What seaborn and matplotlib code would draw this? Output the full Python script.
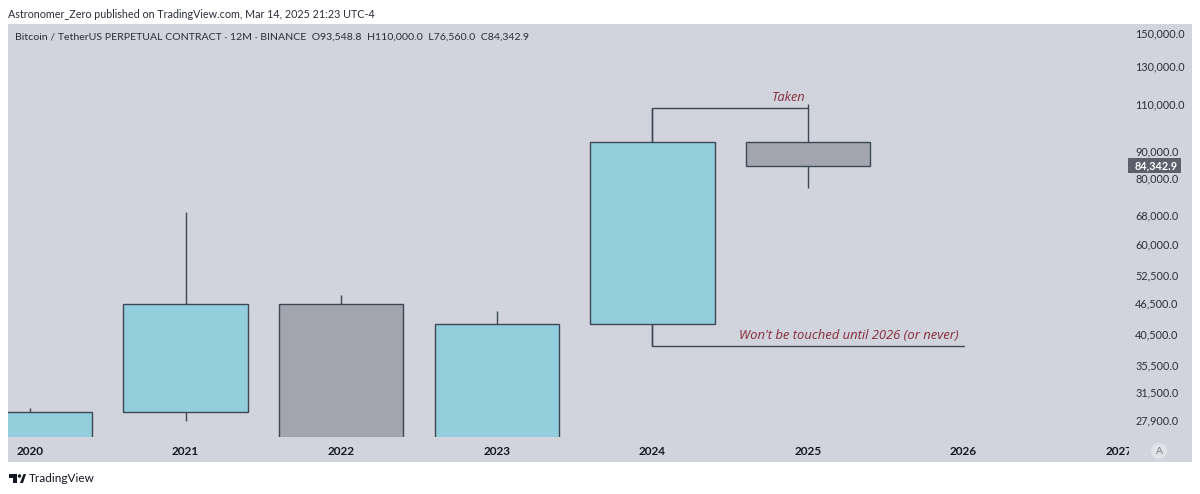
import numpy as np
import matplotlib
matplotlib.use("Agg")
import matplotlib.pyplot as plt
from matplotlib.patches import Rectangle, Circle, Polygon
from matplotlib.transforms import Bbox
import seaborn as sns

years = [2020, 2021, 2022, 2023, 2024, 2025]
opens = [7200.0, 28900.0, 46200.0, 16500.0, 42300.0, 93548.8]
closes = [28900.0, 46200.0, 16500.0, 42300.0, 93548.8, 84342.9]
highs = [29400.0, 68900.0, 48100.0, 44800.0, 108300.0, 110000.0]
lows = [7000.0, 27800.0, 15500.0, 16000.0, 38500.0, 76560.0]
axis_years = [2020, 2021, 2022, 2023, 2024, 2025, 2026, 2027]
price_ticks = [150000, 130000, 110000, 90000, 80000, 68000, 60000, 52500,
               46500, 40500, 35500, 31500, 27900]

W, H = 1200, 494
UP, DOWN = "#92cedb", "#a2a5ae"
EDGE = "#3c4654"
PANEL = "#d1d4dc"
NOTE = "#862b3c"
TXT = "#2a2e39"

sns.set_theme(style="white")
plt.rcParams["font.family"] = ["Lato", "DejaVu Sans"]

fig = plt.figure(figsize=(W / 100, H / 100), dpi=100, facecolor="white")
fig.add_artist(Rectangle((8 / W, 1 - 462 / H), 1184 / W, 438 / H, transform=fig.transFigure,
                         facecolor=PANEL, edgecolor="none", zorder=-5))
ax = fig.add_axes([8 / W, 1 - 437 / H, 1119 / W, 413 / H])
ax.patch.set_alpha(0)

bottoms = [min(o, c) for o, c in zip(opens, closes)]
heights = [abs(o - c) for o, c in zip(opens, closes)]
ax.vlines(years, lows, highs, color=EDGE, lw=1.0, zorder=1)
sns.barplot(x=years, y=heights, bottom=bottoms, native_scale=True, width=0.8, saturation=1,
            color=UP, edgecolor=EDGE, linewidth=1.0, errorbar=None, ax=ax, zorder=2)
for bar, o, c in zip(ax.patches, opens, closes):
    bar.set_facecolor(UP if c >= o else DOWN)

ax.set_yscale("log")
ax.set_xlim(2019.859, 2027.05)
ax.set_ylim(25930, 155990)
ax.set_xlabel("")
ax.set_ylabel("")
ax.yaxis.tick_right()
ax.minorticks_off()
ax.set_yticks(price_ticks)
ax.set_yticklabels([f"{p:,.1f}" for p in price_ticks], fontsize=7.8, color=TXT)
ax.minorticks_off()
ax.tick_params(axis="y", length=0, pad=5.8)
ax.set_xticks(axis_years)
ax.set_xticklabels([str(y) for y in axis_years], fontsize=8.5, fontweight="bold", color="#131722")
ax.tick_params(axis="x", length=0, pad=6.2)
for s in ax.spines.values():
    s.set_visible(False)
clip = Bbox([[8, 0], [1129, H]])
for lab in ax.get_xticklabels():
    lab.set_clip_box(clip)
    lab.set_clip_on(True)

# Annotation lines anchored on the 2024 candle
ax.plot([2024, 2024, 2025], [closes[4], highs[4], highs[4]], color=EDGE, lw=1.0, zorder=1)
ax.plot([2024, 2024, 2026], [opens[4], lows[4], lows[4]], color=EDGE, lw=1.0, zorder=1)


def ftext(x, y, s, **kw):
    kw.setdefault("va", "center")
    kw.setdefault("ha", "left")
    return fig.text(x / W, 1 - y / H, s, **kw)


ftext(772, 97.5, "Taken", color=NOTE, fontsize=9.3, style="italic", family="Open Sans")
ftext(739, 335.5, "Won't be touched until 2026 (or never)", color=NOTE, fontsize=9.4,
      style="italic", family="Open Sans")

ftext(8, 14, "Astronomer_Zero published on TradingView.com, Mar 14, 2025 21:23 UTC-4",
      color=TXT, fontsize=7.75)
ftext(15, 37, "Bitcoin / TetherUS PERPETUAL CONTRACT · 12M · BINANCE  O93,548.8  H110,000.0  L76,560.0  C84,342.9",
      color=TXT, fontsize=7.55)

fig.add_artist(Rectangle((1128 / W, 1 - 173 / H), 53 / W, 15 / H, transform=fig.transFigure,
                         facecolor="#5d606b", edgecolor="none", zorder=5))
ftext(1135, 165.5, f"{closes[5]:,.1f}", color="white", fontsize=7.8, fontweight="bold", zorder=6)

fig.add_artist(Circle((1159, H - 451), 8, transform=None, facecolor="#e1e3e8", edgecolor="none", zorder=5))
ftext(1159, 451, "A", color="#787b86", fontsize=7.5, ha="center", zorder=6)

# TradingView wordmark
for pts in ([(9, 474), (17, 474), (17, 483), (13, 483), (13, 478), (9, 478)],
            [(20, 483), (23.5, 474), (26, 474), (23, 483)]):
    fig.add_artist(Polygon([(x / W, 1 - y / H) for x, y in pts], closed=True,
                           transform=fig.transFigure, facecolor="#131722", edgecolor="none"))
fig.add_artist(Circle((19.5, H - 476), 1.7, transform=None, facecolor="#131722", edgecolor="none"))
ftext(29, 478.5, "TradingView", color="#131722", fontsize=8.5)

fig.savefig("out.png", dpi=100)
